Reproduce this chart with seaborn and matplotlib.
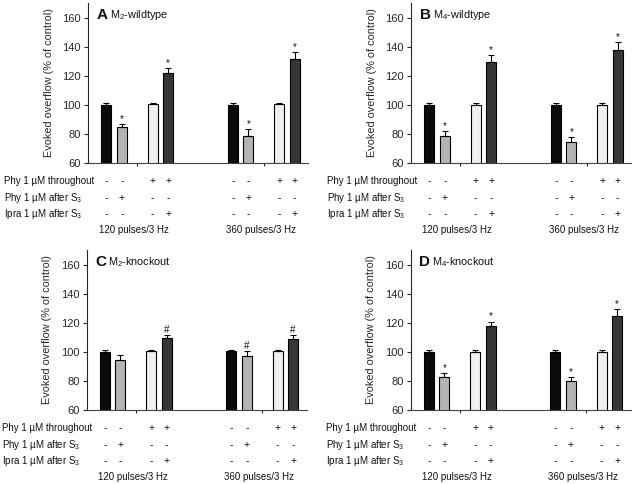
import numpy as np
import pandas as pd
import seaborn as sns
import matplotlib.pyplot as plt

# ---- data ----
groups = ["120 pulses/3 Hz", "360 pulses/3 Hz"]
conditions = ["control", "phy_after", "phy_throughout", "phy_ipra"]

panel_letters = ["A", "B", "C", "D"]
panel_names = [r"$\mathregular{M_2}$-wildtype", r"$\mathregular{M_4}$-wildtype",
               r"$\mathregular{M_2}$-knockout", r"$\mathregular{M_4}$-knockout"]

# values per panel: group 1 (4 conditions) then group 2 (4 conditions)
a_values = [100.0, 84.5, 100.3, 121.8, 100.2, 78.8, 100.5, 131.5]
a_errors = [1.0, 2.4, 1.0, 3.8, 1.0, 4.5, 1.0, 4.8]
a_marks = ["", "*", "", "*", "", "*", "", "*"]

b_values = [100.0, 78.3, 100.0, 129.5, 100.0, 74.3, 100.0, 138.0]
b_errors = [1.0, 3.4, 1.0, 4.8, 1.0, 3.5, 1.0, 5.0]
b_marks = ["", "*", "", "*", "", "*", "", "*"]

c_values = [100.0, 94.5, 100.5, 109.6, 100.5, 97.0, 100.5, 108.7]
c_errors = [1.0, 3.5, 1.0, 2.3, 1.0, 3.8, 1.0, 3.0]
c_marks = ["", "", "", "#", "", "#", "", "#"]

d_values = [100.0, 82.5, 100.0, 118.0, 100.0, 79.6, 100.0, 124.8]
d_errors = [1.0, 2.8, 1.0, 2.8, 1.0, 3.0, 1.0, 4.3]
d_marks = ["", "*", "", "*", "", "*", "", "*"]

row_labels = ["Phy 1 µM throughout", r"Phy 1 µM after $\mathregular{S_3}$",
              r"Ipra 1 µM after $\mathregular{S_3}$"]
row_throughout = ["-", "-", "+", "+"]
row_phy_after = ["-", "+", "-", "-"]
row_ipra = ["-", "-", "-", "+"]

y_ticks = [60, 80, 100, 120, 140, 160]

# ---- style ----
sns.set_style("ticks")
plt.rcParams["font.family"] = ["Liberation Sans", "DejaVu Sans"]
plt.rcParams["mathtext.fontset"] = "custom"
plt.rcParams["mathtext.rm"] = "Liberation Sans"
plt.rcParams["text.color"] = "#111111"

hue_order = ["control", "phy_after", "gap", "phy_throughout", "phy_ipra"]
palette = {"control": "#0b0b0b", "phy_after": "#b4b4b4", "gap": "white",
           "phy_throughout": "#efefef", "phy_ipra": "#363636"}

fig = plt.figure(figsize=(6.4, 4.84), dpi=100)

W, H = 640, 484
axes_px = [(88, 163), (411, 163), (86.5, 410), (410.5, 410)]  # left, bottom (px from top)
ax_w, ax_h = 220, 160

panel_data = [(a_values, a_errors, a_marks), (b_values, b_errors, b_marks),
              (c_values, c_errors, c_marks), (d_values, d_errors, d_marks)]

row_offsets = [-18, -35, -51]
sign_rows = [row_throughout, row_phy_after, row_ipra]

for (left, bottom), letter, name, (vals, errs, marks) in zip(axes_px, panel_letters, panel_names, panel_data):
    ax = fig.add_axes([left / W, 1 - bottom / H, ax_w / W, ax_h / H])

    df = pd.DataFrame({
        "group": np.repeat(groups, len(conditions)),
        "cond": conditions * len(groups),
        "value": vals,
        "err": errs,
        "mark": marks,
    })

    sns.barplot(data=df, x="group", y="value", hue="cond", order=groups,
                hue_order=hue_order, palette=palette, width=0.61, gap=0.35,
                errorbar=None, edgecolor="black", linewidth=0.8,
                legend=False, ax=ax)

    # match bars to rows by position
    bars = sorted([p for p in ax.patches if p.get_width() > 0], key=lambda p: p.get_x())
    df["gi"] = df["group"].map({g: i for i, g in enumerate(groups)})
    df["ci"] = df["cond"].map({c: i for i, c in enumerate(conditions)})
    df = df.sort_values(["gi", "ci"]).reset_index(drop=True)
    df["xpos"] = [p.get_x() + p.get_width() / 2 for p in bars]

    ax.errorbar(df["xpos"], df["value"], yerr=[np.zeros(len(df)), df["err"]],
                fmt="none", ecolor="black", elinewidth=0.8, capsize=2.5,
                capthick=0.8)

    for _, r in df.iterrows():
        if r["mark"]:
            ax.annotate(r["mark"], xy=(r["xpos"], r["value"] + r["err"]),
                        xytext=(0, 2), textcoords="offset pixels",
                        ha="center", va="baseline", fontsize=7)

    ax.set_xlim(-0.39, 1.35)
    ax.set_ylim(60, 170)
    ax.set_yticks(y_ticks)
    ax.set_xticks([0, 1])
    ax.set_xticklabels(["", ""])
    ax.tick_params(axis="y", labelsize=8, length=3, width=0.8, pad=2)
    ax.tick_params(axis="x", length=2.5, width=0.8)
    ax.set_xlabel("")
    ax.set_ylabel("Evoked overflow (% of control)", fontsize=7.8)
    ax.yaxis.set_label_coords(-34 / ax_w, 0.5)
    sns.despine(ax=ax)
    ax.spines["left"].set_linewidth(0.8)
    ax.spines["bottom"].set_linewidth(0.8)
    ax.spines["bottom"].set_color("#444444")

    # panel title
    ax.text(9 / ax_w, 1 - 12 / ax_h, letter, transform=ax.transAxes,
            fontsize=11, fontweight="bold", ha="left", va="center")
    ax.text(22 / ax_w, 1 - 12 / ax_h, name, transform=ax.transAxes,
            fontsize=7.8, ha="left", va="center")

    # treatment table under the axis
    for label, off, signs in zip(row_labels, row_offsets, sign_rows):
        ax.annotate(label, xy=(0, 0), xycoords="axes fraction",
                    xytext=(-84, off), textcoords="offset pixels",
                    ha="left", va="center", fontsize=7, annotation_clip=False)
        for _, r in df.iterrows():
            ax.annotate(signs[r["ci"]], xy=(r["xpos"], 0),
                        xycoords=("data", "axes fraction"),
                        xytext=(0, off), textcoords="offset pixels",
                        ha="center", va="center", fontsize=7.5,
                        annotation_clip=False)
    for gi, g in enumerate(groups):
        ax.annotate(g, xy=(gi, 0), xycoords=("data", "axes fraction"),
                    xytext=(-3, -67), textcoords="offset pixels",
                    ha="center", va="center", fontsize=7, annotation_clip=False)

fig.savefig("out.png", dpi=100)
